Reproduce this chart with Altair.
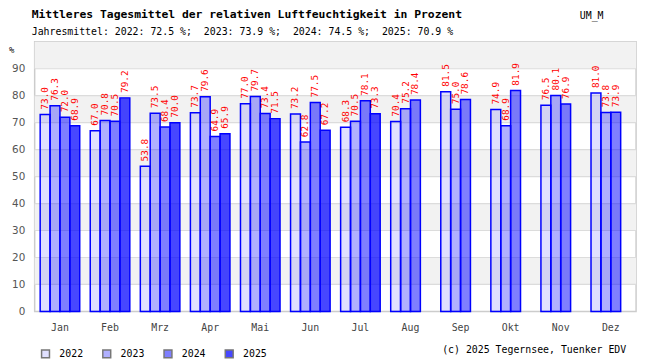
import altair as alt
import pandas as pd

months = ["Jan", "Feb", "Mrz", "Apr", "Mai", "Jun", "Jul", "Aug", "Sep", "Okt", "Nov", "Dez"]
years = ["2022", "2023", "2024", "2025"]
v2022 = [73.0, 67.0, 53.8, 73.7, 77.0, 73.2, 68.3, 70.4, 81.5, 74.9, 76.5, 81.0]
v2023 = [76.3, 70.8, 73.5, 79.6, 79.7, 62.8, 70.5, 75.2, 75.0, 68.9, 80.1, 73.8]
v2024 = [72.0, 70.5, 68.4, 64.9, 73.4, 77.5, 78.1, 78.4, 78.6, 81.9, 76.9, 73.9]
v2025 = [68.9, 79.2, 70.0, 65.9, 71.5, 67.2, 73.3, None, None, None, None, None]
annual = [72.5, 73.9, 74.5, 70.9]
band_lo = [10, 30, 50, 70, 90]
band_hi = [20, 40, 60, 80, 100]
grid_vals = [10, 20, 30, 40, 50, 60, 70, 80, 90]
y_ticks = [0, 10, 20, 30, 40, 50, 60, 70, 80, 90]
fill_colors = ["rgba(0,0,255,0.12)", "rgba(0,0,255,0.31)", "rgba(0,0,255,0.5)", "rgba(0,0,255,0.72)"]

title_text = "Mittleres Tagesmittel der relativen Luftfeuchtigkeit in Prozent"
subtitle_text = "Jahresmittel: " + ";\u00a0 ".join(f"{y}: {a:.1f} %" for y, a in zip(years, annual))
code_text = "UM_M"
unit_text = "%"
copy_text = "(c) 2025 Tegernsee, Tuenker EDV"

rows = []
for y, vals in zip(years, [v2022, v2023, v2024, v2025]):
    for m, v in zip(months, vals):
        if v is not None:
            rows.append({"month": m, "year": y, "value": v})
df = pd.DataFrame(rows)

MONO = "DejaVu Sans Mono"
W, H = 609, 273

x_axis = alt.Axis(title=None, labelAngle=0, ticks=False, domain=False, labelPadding=11,
                  labelFont=MONO, labelFontSize=10, labelColor="#444444")
y_axis = alt.Axis(title=None, values=y_ticks, ticks=False, domain=False, grid=False,
                  labelPadding=10, labelFont="DejaVu Sans", labelFontSize=10.5,
                  labelColor="#555555", labelOverlap=False)
x_scale = alt.Scale(domain=months, paddingInner=0.21, paddingOuter=0.11)
y_scale = alt.Scale(domain=[0, 100], nice=False)
x_enc = alt.X("month:N", scale=x_scale, axis=x_axis)
xo_enc = alt.XOffset("year:N", scale=alt.Scale(domain=years, paddingInner=0, paddingOuter=0))

bands = alt.Chart(pd.DataFrame({"lo": band_lo, "hi": band_hi})).mark_rect(color="#f2f2f2").encode(
    x=alt.value(0), x2=alt.value(W),
    y=alt.Y("lo:Q", scale=y_scale, axis=y_axis), y2="hi:Q")

grid = alt.Chart(pd.DataFrame({"g": grid_vals})).mark_rule(color="#dcdcdc", strokeWidth=1.2).encode(
    y=alt.Y("g:Q", scale=y_scale, axis=y_axis))

bars = alt.Chart(df).mark_bar(stroke="#0000ff", strokeWidth=1.5).encode(
    x=x_enc, xOffset=xo_enc,
    y=alt.Y("value:Q", scale=y_scale, axis=y_axis),
    fill=alt.Fill("year:N", scale=alt.Scale(domain=years, range=fill_colors),
                  legend=alt.Legend(title=None, orient="none", legendX=6, legendY=311,
                                    direction="horizontal", symbolType="square", symbolSize=64,
                                    symbolStrokeColor="#777777", symbolStrokeWidth=1.5,
                                    labelFont=MONO, labelFontSize=10, labelColor="#000000",
                                    labelOffset=9, columnPadding=16, padding=0)))

labels = alt.Chart(df).mark_text(angle=270, align="left", baseline="middle", dx=5,
                                 color="#ff0000", font=MONO, fontSize=9.5).encode(
    x=x_enc, xOffset=xo_enc, y=alt.Y("value:Q", scale=y_scale, axis=y_axis),
    text=alt.Text("value:Q", format=".1f"))


def txt(s, x, y, **kw):
    return alt.Chart(pd.DataFrame({"t": [s]})).mark_text(baseline="alphabetic", **kw).encode(
        text="t:N", x=alt.value(x), y=alt.value(y))


t_title = txt(title_text, -3, -24, align="left", font=MONO, fontSize=11.5, fontWeight="bold", color="#000000")
t_sub = txt(subtitle_text, -3, -7, align="left", font=MONO, fontSize=10, color="#000000")
t_code = txt(code_text, 552, -23.5, align="left", font=MONO, fontSize=10, color="#000000")
t_unit = txt(unit_text, -26, 11, align="left", font=MONO, fontSize=9, color="#000000")
t_copy = txt(copy_text, 599, 315, align="right", font=MONO, fontSize=10, color="#000000")

chart = alt.layer(bands, grid, bars, labels, t_title, t_sub, t_code, t_unit, t_copy).properties(
    width=W, height=H,
    autosize=alt.AutoSizeParams(type="none"),
    padding={"left": 27, "top": 32, "right": 6, "bottom": 47},
    background="#ffffff",
).configure_view(stroke="#cccccc", strokeWidth=1.5)

chart.save("out.html", embed_options={"renderer": "svg", "actions": False})
